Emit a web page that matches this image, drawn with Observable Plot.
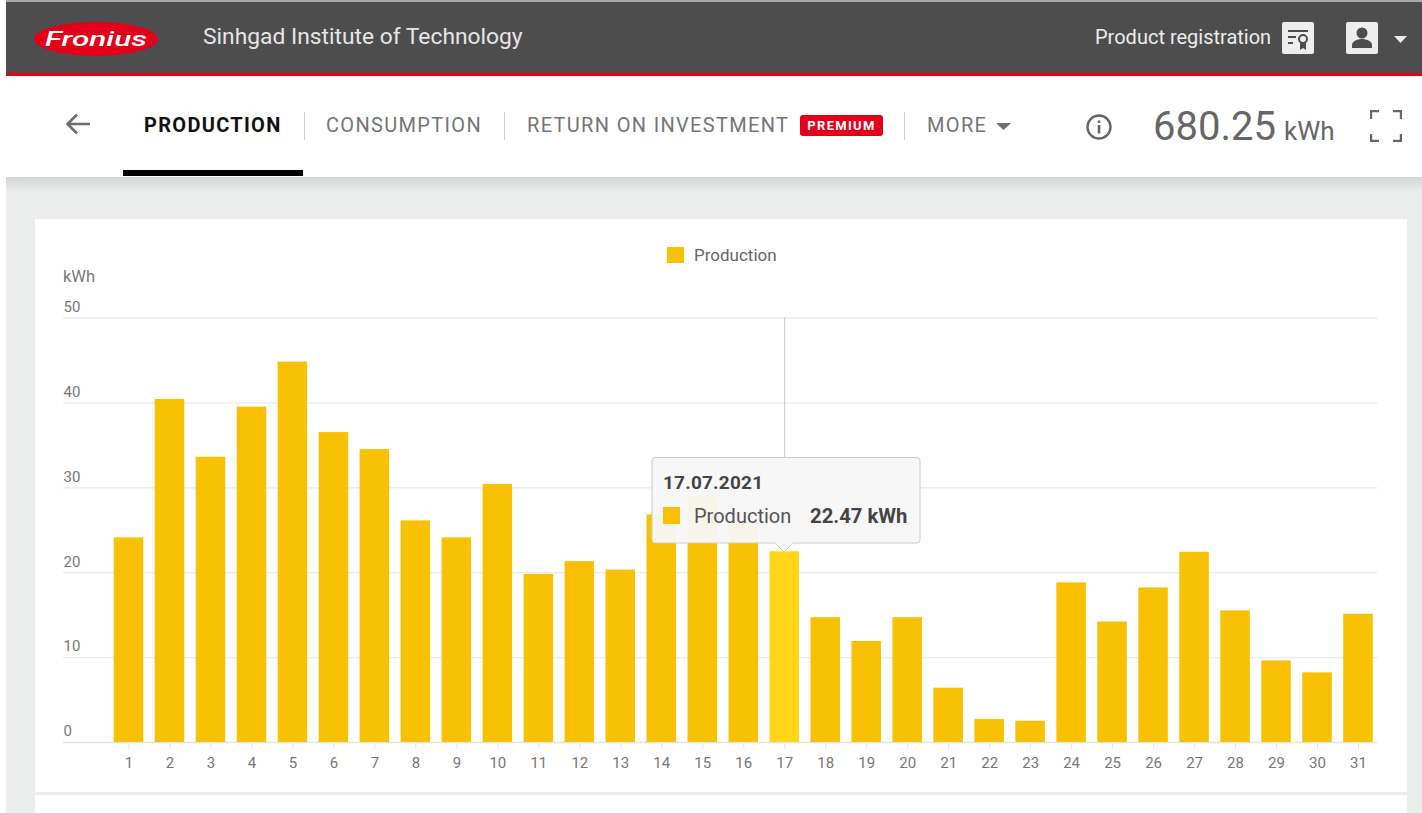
<!DOCTYPE html>
<html><head><meta charset="utf-8">
<script src="https://cdn.jsdelivr.net/npm/d3@7"></script>
<script src="https://cdn.jsdelivr.net/npm/@observablehq/plot@0.6"></script>
<style>
html,body{margin:0;padding:0;background:#fff;overflow:hidden}
#page{position:relative;width:1422px;height:813px;overflow:hidden;font-family:Roboto,sans-serif;background:#fff}
.a{position:absolute;white-space:nowrap;line-height:1}
.nav{font-size:20px;letter-spacing:1.33px;color:#757575;top:115px}
.sep{position:absolute;top:112px;width:1px;height:28px;background:#cfcfcf}
#chart{position:absolute;left:35px;top:219px;width:1372px;height:573px}
#chart svg{display:block;max-width:none}
</style></head><body>
<div id="page">
  <div class="a" style="left:6px;top:0;right:0;height:2px;background:#a9a9a9"></div>
  <div class="a" style="left:6px;top:2px;right:0;height:71px;background:#4d4d4d"></div>
  <div class="a" style="left:6px;top:73px;right:0;height:3px;background:#e2001a"></div>
  <svg class="a" style="left:32px;top:20px" width="128" height="38" viewBox="0 0 128 38">
    <ellipse cx="64" cy="19" rx="62" ry="17" fill="#e2001a"/>
    <text x="64" y="26" text-anchor="middle" font-family="Roboto" font-style="italic" font-weight="500" font-size="21" fill="#fff" textLength="102" lengthAdjust="spacingAndGlyphs">Fronius</text>
  </svg>
  <div class="a" style="left:203px;top:26px;font-size:22.800px;color:#e6e6e6">Sinhgad Institute of Technology</div>
  <div class="a" style="left:1095px;top:27px;font-size:20px;color:#ececec">Product registration</div>
  <svg class="a" style="left:1282px;top:22px" width="32" height="32" viewBox="0 0 32 32">
    <rect width="32" height="32" rx="2" fill="#eeeeee"/>
    <path d="M6 8h20v2H6zM6 14h8v2H6zM6 20h5v2H6z" fill="#4d4d4d"/>
    <circle cx="21" cy="17" r="4" fill="none" stroke="#4d4d4d" stroke-width="2"/>
    <path d="M18 21v7l3-2 3 2v-7z" fill="#4d4d4d"/>
  </svg>
  <svg class="a" style="left:1346px;top:22px" width="32" height="32" viewBox="0 0 32 32">
    <rect width="32" height="32" rx="2" fill="#eeeeee"/>
    <circle cx="16" cy="11" r="5.500" fill="#4d4d4d"/>
    <path d="M6 26v-3c0-4 6-6 10-6s10 2 10 6v3z" fill="#4d4d4d"/>
  </svg>
  <svg class="a" style="left:1394px;top:35px" width="14" height="10"><path d="M0 1h13L6.500 8z" fill="#ececec"/></svg>

  <svg class="a" style="left:64px;top:110px" width="28" height="28" viewBox="0 0 28 28">
    <path d="M26 14H4M13 4.500L3.500 14L13 23.500" fill="none" stroke="#6e6e6e" stroke-width="2.600"/>
  </svg>
  <div class="a nav" style="left:144px;color:#111;font-weight:700;letter-spacing:1.300px">PRODUCTION</div>
  <div class="sep" style="left:304px"></div>
  <div class="a nav" style="left:326px">CONSUMPTION</div>
  <div class="sep" style="left:504px"></div>
  <div class="a nav" style="left:527px">RETURN ON INVESTMENT</div>
  <div class="a" style="left:800px;top:115px;width:83px;height:21px;border-radius:3px;background:#e2001a;color:#fff;font-size:13px;font-weight:700;letter-spacing:1.300px;line-height:22px;text-align:center">PREMIUM</div>
  <div class="sep" style="left:904px"></div>
  <div class="a nav" style="left:927px">MORE</div>
  <svg class="a" style="left:996px;top:122px" width="16" height="10"><path d="M0 1h15L7.500 8z" fill="#6e6e6e"/></svg>
  <svg class="a" style="left:1085px;top:113px" width="28" height="28" viewBox="0 0 28 28">
    <circle cx="14" cy="14" r="11.500" fill="none" stroke="#666" stroke-width="2.400"/>
    <path d="M12.700 7.500h2.600v2.600h-2.600zM12.700 12h2.600v8.500h-2.600z" fill="#666"/>
  </svg>
  <div class="a" style="left:1153px;top:107px;font-size:40px;color:#666">680.25</div>
  <div class="a" style="left:1284px;top:118px;font-size:26px;color:#666">kWh</div>
  <svg class="a" style="left:1370px;top:110px" width="32" height="32" viewBox="0 0 32 32">
    <path d="M1 9V1h8M23 1h8v8M31 24v7h-8M9 31H1v-7" fill="none" stroke="#666" stroke-width="2.400"/>
  </svg>
  <div class="a" style="left:123px;top:170px;width:180px;height:6px;background:#000"></div>

  <div class="a" style="left:6px;top:177px;right:0;bottom:0;background:#ebedec"></div>
  <div class="a" style="left:6px;top:177px;right:0;height:14px;background:linear-gradient(#d3d5d4,#ebedec)"></div>
  <div class="a" style="left:35px;top:219px;width:1372px;height:573px;background:#fff"></div>
  <div class="a" style="left:35px;top:795px;width:1372px;height:18px;background:#fff"></div>

  <div id="chart"></div>
  <div class="a" style="left:667px;top:247px;width:17px;height:16px;background:#f8c104"></div>
  <div class="a" style="left:694px;top:247px;font-size:17px;color:#666">Production</div>
  <div class="a" style="left:63px;top:269px;font-size:16.500px;color:#777">kWh</div>

  <svg class="a" style="left:652px;top:457px;overflow:visible" width="269" height="97">
    <path d="M3 .5H265a3 3 0 0 1 3 3V83a3 3 0 0 1-3 3H141l-9 9-9-9H3a3 3 0 0 1-3-3V3.500a3 3 0 0 1 3-3z" fill="#f7f7f7" fill-opacity=".95" stroke="#cccccc"/>
  </svg>
  <div class="a" style="left:663px;top:473px;font-size:19px;font-weight:700;color:#444;letter-spacing:.2px">17.07.2021</div>
  <div class="a" style="left:663px;top:507px;width:17px;height:17px;background:#f8c104"></div>
  <div class="a" style="left:694px;top:506px;font-size:20px;color:#555">Production</div>
  <div class="a" style="left:810px;top:506px;font-size:20.300px;font-weight:700;color:#444">22.47 kWh</div>
</div>
<script>
const days = d3.range(1, 32);
const production = [24.1,40.4,33.6,39.5,44.8,36.5,34.5,26.1,24.1,30.4,19.8,21.3,20.3,26.8,28.9,25.8,22.47,14.7,11.9,14.7,6.4,2.7,2.5,18.8,14.2,18.2,22.4,15.5,9.6,8.2,15.1];
const yTicks = [0,10,20,30,40,50];
const selectedDay = 17;
const barColor = "#f8c104", hiColor = "#ffd618";
const rows = days.map((day,i)=>({day, value:production[i]}));
const chart = Plot.plot({
  width:1372, height:573,
  marginLeft:73, marginRight:28.5, marginTop:98.5, marginBottom:50,
  style:{fontFamily:"Roboto, sans-serif", fontSize:"15px", background:"transparent", overflow:"visible"},
  x:{type:"band", domain:days, round:false, paddingInner:.28, paddingOuter:.14, label:null},
  y:{domain:[0,50], ticks:yTicks, label:null},
  marks:[
    Plot.ruleY(yTicks,{y:d=>d, stroke:d=>d===0?"#e4e4e4":"#ebebeb", strokeWidth:1.3, insetLeft:-45, insetRight:1}),
    Plot.barY(rows,{x:"day", y:"value", fill:d=>d.day===selectedDay?hiColor:barColor}),
    Plot.ruleX(rows.filter(d=>d.day===selectedDay),{x:"day", y1:"value", y2:50, stroke:"#c4c4c4"}),
    Plot.axisX(days,{tickSize:7, tickPadding:8, stroke:"#e6e6e6", fill:"#777", label:null, fontSize:15}),
    Plot.axisY(yTicks,{tickSize:0, textAnchor:"start", fill:"#777", dx:-17, dy:-11, label:null, fontSize:15, tickPadding:28})
  ]
});
document.getElementById("chart").appendChild(chart);
</script>
</body></html>
